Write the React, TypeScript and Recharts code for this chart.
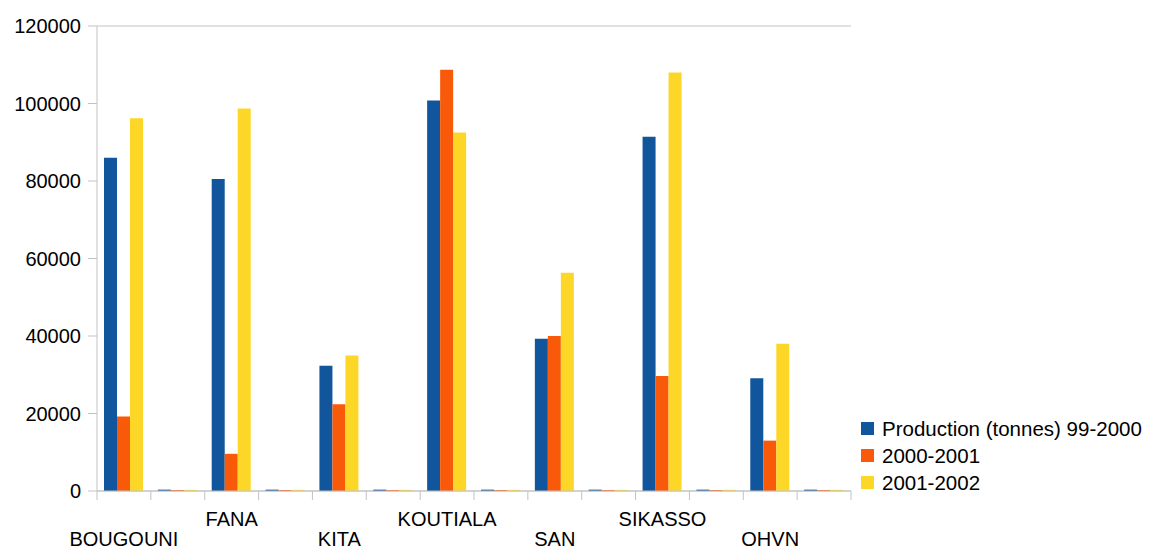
import React from "react";
import {
  BarChart,
  Bar,
  XAxis,
  YAxis,
  CartesianGrid,
} from "recharts";

if (typeof document !== "undefined") document.body.style.margin = "0";

const categories = [
  "BOUGOUNI", "", "FANA", "", "KITA", "", "KOUTIALA", "",
  "SAN", "", "SIKASSO", "", "OHVN", "",
];
const prod9900 = [86000, 350, 80500, 350, 32300, 350, 100800, 350, 39300, 350, 91400, 350, 29100, 350];
const prod0001 = [19200, 250, 9600, 250, 22400, 250, 108700, 250, 40000, 250, 29700, 250, 13000, 250];
const prod0102 = [96200, 300, 98700, 300, 35000, 300, 92500, 300, 56300, 300, 108000, 300, 38000, 300];
const yTicks = [0, 20000, 40000, 60000, 80000, 100000, 120000];

const seriesNames = ["Production (tonnes) 99-2000", "2000-2001", "2001-2002"];
const seriesKeys = ["p1", "p2", "p3"];
const colors = ["#11559c", "#f85a0a", "#fdd728"];

const data = categories.map((name, i) => ({
  id: i,
  name,
  p1: prod9900[i],
  p2: prod0001[i],
  p3: prod0102[i],
}));

const FONT = "'Liberation Sans', Arial, sans-serif";
const GRID = "#c3c3c3";

// label in the middle of the band, tick marks on the band edges
const CategoryTick = (props: any) => {
  const { x, y, payload } = props;
  const i = payload.index ?? payload.value;
  const half = payload.offset || 26.9;
  const label = categories[i];
  const lower = (i / 2) % 2 === 0;
  return (
    <g>
      <line x1={x - half} y1={y} x2={x - half} y2={y + 9} stroke={GRID} />
      {i === categories.length - 1 && (
        <line x1={x + half} y1={y} x2={x + half} y2={y + 9} stroke={GRID} />
      )}
      {label && (
        <text
          x={x}
          y={y + (lower ? 55 : 35)}
          textAnchor="middle"
          fontSize={20}
          fontFamily={FONT}
          fill="#000"
        >
          {label}
        </text>
      )}
    </g>
  );
};

export default function App() {
  return (
    <div style={{ position: "relative", width: 1150, height: 551, background: "#fff" }}>
      <BarChart
        width={1150}
        height={551}
        data={data}
        margin={{ top: 26, right: 299, bottom: 0, left: 0 }}
        barCategoryGap={7}
        barGap={0}
      >
        <CartesianGrid vertical={false} stroke={GRID} />
        <XAxis
          dataKey="id"
          type="category"
          height={60}
          interval={0}
          tickLine={false}
          tickSize={0}
          tickMargin={0}
          axisLine={{ stroke: GRID }}
          tick={<CategoryTick />}
        />
        <YAxis
          yAxisId="left"
          width={97}
          domain={[0, 120000]}
          ticks={yTicks}
          interval={0}
          tickSize={9}
          tickMargin={7}
          tickLine={{ stroke: GRID }}
          axisLine={{ stroke: GRID }}
          tick={{ fontSize: 20, fontFamily: FONT, fill: "#000" }}
        />
        <YAxis
          yAxisId="right"
          orientation="right"
          width={0}
          domain={[0, 120000]}
          tick={false}
          tickLine={false}
          axisLine={{ stroke: GRID }}
        />
        {seriesKeys.map((k, i) => (
          <Bar
            key={k}
            yAxisId="left"
            dataKey={k}
            name={seriesNames[i]}
            fill={colors[i]}
            isAnimationActive={false}
          />
        ))}
      </BarChart>
      <div style={{ position: "absolute", left: 861, top: 415, fontFamily: FONT, fontSize: 20.5, color: "#000" }}>
        {seriesNames.map((n, i) => (
          <div key={n} style={{ display: "flex", alignItems: "center", height: 27 }}>
            <span style={{ display: "inline-block", width: 13, height: 13, background: colors[i], marginRight: 8 }} />
            <span style={{ whiteSpace: "nowrap" }}>{n}</span>
          </div>
        ))}
      </div>
    </div>
  );
}
